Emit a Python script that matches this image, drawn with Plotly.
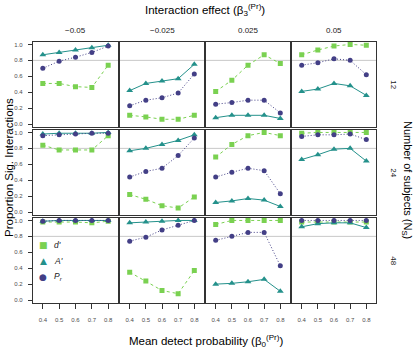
import plotly.graph_objects as go

W, H = 413, 351

x_vals = [0.4, 0.5, 0.6, 0.7, 0.8]
x_ticks = ["0.4", "0.5", "0.6", "0.7", "0.8"]
effects = ["\u22120.05", "\u22120.025", "0.025", "0.05"]
subjects = ["12", "24", "48"]
y_ticks = [0.0, 0.2, 0.4, 0.6, 0.8, 1.0]
threshold = 0.8

# each list: one sub-list per interaction effect column
d_prime_12 = [[0.51, 0.51, 0.47, 0.46, 0.74], [0.11, 0.09, 0.06, 0.06, 0.11],
              [0.41, 0.55, 0.74, 0.87, 0.76], [0.87, 0.93, 0.98, 1.00, 0.99]]
a_prime_12 = [[0.87, 0.90, 0.93, 0.96, 0.99], [0.42, 0.51, 0.54, 0.57, 0.75],
              [0.08, 0.11, 0.11, 0.11, 0.07], [0.41, 0.44, 0.51, 0.48, 0.36]]
p_r_12 = [[0.70, 0.79, 0.84, 0.90, 0.98], [0.23, 0.30, 0.33, 0.39, 0.63],
          [0.25, 0.27, 0.30, 0.30, 0.14], [0.74, 0.77, 0.82, 0.80, 0.62]]

d_prime_24 = [[0.84, 0.78, 0.78, 0.78, 0.96], [0.22, 0.16, 0.08, 0.05, 0.19],
              [0.69, 0.85, 0.96, 1.00, 0.96], [0.99, 1.00, 1.00, 1.00, 1.00]]
a_prime_24 = [[0.98, 0.99, 0.99, 0.99, 1.00], [0.77, 0.80, 0.85, 0.90, 0.97],
              [0.12, 0.14, 0.17, 0.15, 0.07], [0.66, 0.72, 0.79, 0.80, 0.64]]
p_r_24 = [[0.96, 0.97, 0.98, 0.99, 0.99], [0.44, 0.51, 0.55, 0.71, 0.93],
          [0.44, 0.50, 0.55, 0.52, 0.23], [0.95, 0.97, 0.97, 0.98, 0.91]]

d_prime_48 = [[0.98, 0.98, 0.98, 0.97, 0.99], [0.35, 0.24, 0.12, 0.08, 0.37],
              [0.95, 1.00, 1.00, 1.00, 1.00], [0.98, 0.98, 0.98, 0.98, 0.98]]
a_prime_48 = [[0.99, 1.00, 1.00, 1.00, 1.00], [0.97, 0.98, 0.99, 1.00, 1.00],
              [0.20, 0.21, 0.23, 0.26, 0.11], [0.92, 0.96, 0.97, 0.97, 0.91]]
p_r_48 = [[0.99, 1.00, 1.00, 1.00, 1.00], [0.74, 0.79, 0.88, 0.94, 1.00],
          [0.75, 0.80, 0.85, 0.85, 0.43], [1.00, 1.00, 1.00, 1.00, 1.00]]

series_names = ["<i>d'</i>", "<i>A'</i>", "<i>P<sub>r</sub></i>"]
series_colors = ["#7AD151", "#24918B", "#433F86"]
series_symbols = ["square", "triangle-up", "circle"]
series_glyphs = ["\u25A0", "\u25B2", "\u25CF"]
series_dash = ["3px,3px", "solid", "1px,2px"]
series_msize = [5, 6, 5]

data_rows = [
    [d_prime_12, a_prime_12, p_r_12],
    [d_prime_24, a_prime_24, p_r_24],
    [d_prime_48, a_prime_48, p_r_48],
]

# layout in pixels
col_px = [(33, 118), (120, 204), (206, 290), (292, 376)]
row_px = [(41.5, 127), (129.5, 215), (217.5, 303)]

FONT = "Liberation Sans, Arial, sans-serif"

fig = go.Figure()
layout = {}
shapes = []
for r in range(3):
    for c in range(4):
        idx = r * 4 + c + 1
        xa = "x" if idx == 1 else f"x{idx}"
        ya = "y" if idx == 1 else f"y{idx}"
        for s in range(3):
            fig.add_trace(go.Scatter(
                x=x_vals, y=data_rows[r][s][c], mode="lines+markers",
                name=series_names[s],
                line=dict(color=series_colors[s], width=1, dash=series_dash[s]),
                marker=dict(color=series_colors[s], symbol=series_symbols[s],
                            size=series_msize[s], line=dict(width=0)),
                xaxis=xa, yaxis=ya, showlegend=False, hoverinfo="skip"))
        x0, x1 = col_px[c]
        y0, y1 = row_px[r]
        layout["xaxis" if idx == 1 else f"xaxis{idx}"] = dict(
            domain=[x0 / W, x1 / W], range=[0.34, 0.86], anchor=ya,
            showgrid=False, zeroline=False, showline=True, mirror=True,
            linecolor="#333333", linewidth=1.3,
            tickvals=x_vals, ticktext=x_ticks,
            showticklabels=(r == 2), ticks="outside" if r == 2 else "",
            ticklen=5, tickcolor="#333333", tickwidth=1,
            ticklabelstandoff=6,
            tickfont=dict(size=6, color="#4d4d4d", family=FONT))
        layout["yaxis" if idx == 1 else f"yaxis{idx}"] = dict(
            domain=[1 - y1 / H, 1 - y0 / H], range=[-0.037, 1.037], anchor=xa,
            showgrid=False, zeroline=False, showline=True, mirror=True,
            linecolor="#333333", linewidth=1.3,
            tickvals=y_ticks, ticktext=[f"{v:.1f}" for v in y_ticks],
            showticklabels=(c == 0), ticks="outside" if c == 0 else "",
            ticklen=4, tickcolor="#333333", tickwidth=1,
            ticklabelstandoff=4,
            tickfont=dict(size=6, color="#4d4d4d", family=FONT))
        shapes.append(dict(type="line", xref=f"{xa} domain", yref=ya,
                           x0=0, x1=1, y0=threshold, y1=threshold,
                           line=dict(color="#c8c8c8", width=1), layer="below"))

annotations = []
for c, lab in enumerate(effects):
    annotations.append(dict(text=lab, x=(col_px[c][0] + col_px[c][1]) / 2 / W,
                            y=1 - 30 / H, xanchor="center", yanchor="middle",
                            xref="paper", yref="paper",
                            showarrow=False, font=dict(size=8, color="#1a1a1a", family=FONT)))
for r, lab in enumerate(subjects):
    annotations.append(dict(text=lab, x=394 / W, y=1 - (row_px[r][0] + row_px[r][1]) / 2 / H,
                            xanchor="center", yanchor="middle",
                            xref="paper", yref="paper", textangle=90,
                            showarrow=False, font=dict(size=8, color="#1a1a1a", family=FONT)))
# legend inside bottom-left panel: key glyph + italic label
leg_y = [245, 260.5, 276.5]
for s in range(3):
    annotations.append(dict(text=series_glyphs[s], x=43 / W, y=1 - leg_y[s] / H,
                            xanchor="center", yanchor="middle", xref="paper", yref="paper",
                            showarrow=False,
                            font=dict(size=9, color=series_colors[s], family="DejaVu Sans")))
    annotations.append(dict(text=series_names[s], x=52 / W, y=1 - leg_y[s] / H,
                            xanchor="left", yanchor="middle", xref="paper", yref="paper",
                            showarrow=False, font=dict(size=8.5, color="#1a1a1a", family=FONT)))
annotations += [
    dict(text="Interaction effect (\u03b2<sub>3</sub><sup>(Pr)</sup>)", x=205 / W, y=1 - 10 / H,
         xanchor="center", yanchor="middle",
         xref="paper", yref="paper", showarrow=False, font=dict(size=11.5, color="black", family=FONT)),
    dict(text="Mean detect probability (\u03b2<sub>0</sub><sup>(Pr)</sup>)", x=206 / W, y=1 - 341 / H,
         xanchor="center", yanchor="middle",
         xref="paper", yref="paper", showarrow=False, font=dict(size=11.5, color="black", family=FONT)),
    dict(text="Proportion Sig. Interactions", x=9 / W, y=1 - 168 / H, textangle=-90,
         xanchor="center", yanchor="middle",
         xref="paper", yref="paper", showarrow=False, font=dict(size=11.5, color="black", family=FONT)),
    dict(text="Number of subjects (N<sub>S</sub>)", x=407 / W, y=1 - 180 / H, textangle=90,
         xanchor="center", yanchor="middle",
         xref="paper", yref="paper", showarrow=False, font=dict(size=11, color="black", family=FONT)),
]

fig.update_layout(
    width=W, height=H, margin=dict(l=0, r=0, t=0, b=0),
    paper_bgcolor="white", plot_bgcolor="white",
    font=dict(family=FONT), showlegend=False,
    shapes=shapes, annotations=annotations,
    **layout)

fig.write_html("out.html")
